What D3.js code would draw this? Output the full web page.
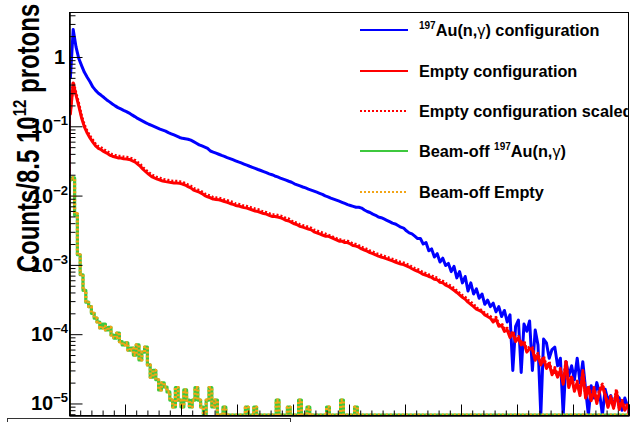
<!DOCTYPE html>
<html><head><meta charset="utf-8">
<script src="https://cdn.jsdelivr.net/npm/d3@7"></script>
<style>
html,body{margin:0;padding:0;background:#fff;}
svg{display:block;font-family:"Liberation Sans",Arial,Helvetica,sans-serif;}
</style></head>
<body>
<svg id="c" width="634" height="422"></svg>
<script>
// ---------------- data ----------------
const binLow = 0, binHigh = 10, binWidth = 0.05; // 200 bins
const yMin = 6.82e-6, yMax = 4.46;

const auConfig = [
0.5,2.5,1.4,0.95,0.75,0.6,0.51,0.44,0.37,0.33,
0.30,0.28,0.26,0.24,0.225,0.21,0.197,0.186,0.178,0.17,
0.163,0.155,0.146,0.138,0.13,0.124,0.118,0.112,0.107,0.103,
0.099,0.095,0.091,0.088,0.085,0.081,0.078,0.075,0.072,0.069,
0.067,0.066,0.065,0.063,0.060,0.057,0.054,0.052,0.050,0.048,
0.044,0.0425,0.041,0.0395,0.038,0.0368,0.0354,0.0342,0.033,0.0318,
0.0306,0.0296,0.0285,0.0275,0.0265,0.0256,0.0247,0.0238,0.023,0.0222,
0.0214,0.0206,0.02,0.0192,0.0186,0.0179,0.0173,0.0167,0.0161,0.0156,
0.0148,0.0143,0.0138,0.0133,0.0129,0.0124,0.012,0.0116,0.0112,0.0108,
0.0104,0.0099,0.0096,0.0092,0.0089,0.0086,0.0083,0.0080,0.0077,0.0074,
0.0072,0.0070,0.0068,0.0068,0.0066,0.0062,0.0059,0.0057,0.0054,0.0052,
0.0049,0.0048,0.0046,0.0044,0.0042,0.0040,0.0039,0.0037,0.0035,0.0034,
0.0031,0.0029,0.0028,0.0026,0.0024,0.0024,0.0020,0.0021,0.0016,0.0017,
0.0013,0.00145,0.0011,0.00125,0.00098,0.00105,0.0008,0.00095,0.00065,0.0008,
0.00055,0.00068,0.00042,0.00055,0.00038,0.00045,0.00033,0.00038,0.00027,0.00031,
0.00025,0.00028,0.00021,0.00025,0.00018,0.00022,0.00015,0.00019,0.00003,0.00013,
0.00016,0.000028,0.00014,0.00011,0.000155,0.00003,0.000115,0.00007,0,0.000085,
0.000075,0.000045,0.00006,0.000065,0.000035,0.000045,0,0.00004,0.000025,0.000035,
0.000022,0.000045,0.00002,0.00004,0.000016,0,0.000018,0.000012,0.00002,0.000014,
0,0.000016,0.000011,0.000013,0.000009,0.000013,0.000012,0.000008,0.000012,0.000009
];

const emptyConfig = [
0.15,0.42,0.283,0.196,0.132,0.098,0.080,0.068,0.059,0.052,
0.048,0.046,0.043,0.041,0.0385,0.037,0.036,0.035,0.0348,0.034,
0.0337,0.0332,0.032,0.0306,0.0285,0.0264,0.0238,0.0219,0.0202,0.0188,
0.018,0.0173,0.0168,0.0162,0.0159,0.0157,0.0154,0.0152,0.0152,0.0150,
0.0147,0.0142,0.0135,0.0129,0.012,0.0116,0.0112,0.0107,0.0100,0.0096,
0.0093,0.0089,0.0088,0.0087,0.0085,0.0082,0.0080,0.0077,0.0075,0.0072,
0.0071,0.0069,0.0067,0.0066,0.0064,0.0062,0.0060,0.0059,0.0057,0.0055,
0.0054,0.0052,0.0050,0.0050,0.0049,0.0048,0.0046,0.0044,0.0043,0.0041,
0.0039,0.0038,0.0036,0.0035,0.0034,0.0033,0.0032,0.0030,0.0029,0.0028,
0.0027,0.0026,0.0026,0.0025,0.0024,0.0023,0.0022,0.0022,0.0021,0.0021,
0.0020,0.0019,0.00187,0.0018,0.0017,0.00164,0.00158,0.0015,0.00145,0.00139,
0.00134,0.0013,0.00126,0.00122,0.00118,0.00114,0.0011,0.00106,0.00103,0.00101,
0.00097,0.00093,0.00088,0.00084,0.00081,0.00077,0.00073,0.00071,0.00068,0.00066,
0.00062,0.00061,0.00056,0.00055,0.00051,0.00049,0.00046,0.00043,0.0004,0.00037,
0.00034,0.00032,0.00029,0.00027,0.00025,0.00023,0.00022,0.00021,0.00019,0.00018,
0.00017,0.00015,0.000165,0.00013,0.000135,0.00011,0.000115,0.00009,0.000105,0.000078,
0.000088,0.00007,0.000075,0.000055,0.000062,0.00006,0.000042,0.00005,0.000036,0.000045,
0.000032,0.000038,0.000026,0.000031,0.000024,0.00003,0.000019,0.00004,0.000017,0.000024,
0.000015,0.00002,0.000013,0.000028,0.000012,0.000017,0.000011,0.000016,0.00001,0.000015,
0.000018,0.000013,0.0000088,0.000012,0.0000085,0.000015,0.0000082,0.0000105,0.000008,0.0000095
];

const emptyScaled = [
0.16,0.44,0.30,0.21,0.14,0.104,0.085,0.072,0.063,0.055,
0.051,0.049,0.046,0.0435,0.041,0.039,0.038,0.037,0.0368,0.036,
0.0357,0.0352,0.034,0.0324,0.0302,0.028,0.0252,0.0232,0.0214,0.0199,
0.0191,0.0183,0.0178,0.0172,0.0169,0.0166,0.0163,0.0161,0.0161,0.0159,
0.0156,0.015,0.0143,0.0137,0.0127,0.0123,0.0119,0.0113,0.0106,0.0102,
0.0099,0.0094,0.0093,0.0092,0.009,0.0087,0.0085,0.0082,0.0080,0.0076,
0.0075,0.0073,0.0071,0.0070,0.0068,0.0066,0.0064,0.0063,0.0060,0.0058,
0.0057,0.0055,0.0053,0.0053,0.0052,0.0051,0.0049,0.0047,0.0046,0.0043,
0.0041,0.0040,0.0038,0.0037,0.0036,0.0035,0.0034,0.0032,0.0031,0.0030,
0.0029,0.0028,0.0027,0.0026,0.0025,0.0024,0.0023,0.0023,0.0022,0.0022,
0.0021,0.0020,0.00198,0.0019,0.0018,0.00174,0.00167,0.00159,0.00154,0.00147,
0.00142,0.00138,0.00134,0.00129,0.00125,0.00121,0.00117,0.00112,0.00109,0.00107,
0.00103,0.00099,0.00093,0.00089,0.00086,0.00082,0.00077,0.00075,0.00072,0.0007,
0.00066,0.00065,0.00059,0.00058,0.00054,0.00052,0.00049,0.00046,0.00042,0.00039,
0.00036,0.00034,0.00031,0.00029,0.00027,0.00024,0.00023,0.00022,0.0002,0.00019,
0.00018,0.00016,0.000175,0.000138,0.000143,0.000117,0.000122,0.000095,0.00011,0.000083,
0.000093,0.000074,0.00008,0.000058,0.000066,0.000064,0.000045,0.000053,0.000038,0.000048,
0.000034,0.00004,0.000028,0.000033,0.000025,0.000032,0.00002,0.000042,0.000018,0.000025,
0.000016,0.000021,0.000014,0.00003,0.000013,0.000018,0.0000117,0.000017,0.0000106,0.000016,
0.000019,0.0000138,0.0000093,0.0000127,0.000009,0.000016,0.0000087,0.0000111,0.0000085,0.00001
];

const beamOffAu = [
0.017,0.018,0.0052,0.0014,0.00072,0.00043,0.00029,0.00025,0.0002,0.00017,
0.00015,0.000123,0.00014,0.000115,0.000125,0.0000974,0.000088,0.000104,0.000078,0.00007,
0.000075,0.000059,0.000063,0.00005,0.00007,0.0000425,0.000055,0.000065,0.000036,0.000024,
0.00003,0.000022,0.0000157,0.0000198,0.0000173,0.0000147,0.0000112,0.0000089,0.000017,0.0000112,
0.0000089,0.0000157,0.0000112,0.0000089,0.0000112,0.000017,0.0000112,0.0000089,0,0.0000112,
0.000017,0.0000089,0.0000112,0,0,0.0000089,0,0,0,0,
0,0,0,0.0000089,0,0,0.0000089,0,0,0,
0,0,0,0,0.0000112,0,0,0,0.0000089,0,
0,0,0.0000112,0,0,0.0000089,0,0,0,0,
0,0,0.0000089,0,0,0,0,0.0000112,0,0,
0,0,0.0000089,0,0,0,0,0,0,0,
0,0,0,0,0,0,0,0,0,0,
0,0,0,0,0,0,0,0,0,0,
0,0,0,0,0,0,0,0,0,0,
0,0,0,0,0,0,0,0,0,0,
0,0,0,0,0,0,0,0,0,0,
0,0,0,0,0,0,0,0,0,0,
0,0,0,0,0,0,0,0,0,0,
0,0,0,0,0,0,0,0,0,0,
0,0,0,0,0,0,0,0,0,0
];

const beamOffEmpty = [
0.017,0.018,0.0055,0.0014,0.00074,0.00043,0.0003,0.00025,0.0002,0.00017,
0.00015,0.000123,0.00013,0.000115,0.000125,0.0000974,0.00009,0.000104,0.000078,0.00007,
0.000075,0.000059,0.000063,0.00005,0.00007,0.0000425,0.000055,0.000065,0.000036,0.000024,
0.00003,0.000022,0.0000157,0.0000198,0.0000173,0.0000147,0.0000112,0.0000089,0.000017,0.0000112,
0.0000089,0.0000157,0.0000112,0.0000089,0.0000112,0.000017,0.0000112,0.0000089,0,0.0000112,
0.000017,0.0000089,0.0000112,0,0,0.0000089,0,0,0,0,
0,0,0,0.0000089,0,0,0.0000089,0,0,0,
0,0,0,0,0.0000112,0,0,0,0.0000089,0,
0,0,0.0000112,0,0,0.0000089,0,0,0,0,
0,0,0.0000089,0,0,0,0,0.0000112,0,0,
0,0,0.0000089,0,0,0,0,0,0,0,
0,0,0,0,0,0,0,0,0,0,
0,0,0,0,0,0,0,0,0,0,
0,0,0,0,0,0,0,0,0,0,
0,0,0,0,0,0,0,0,0,0,
0,0,0,0,0,0,0,0,0,0,
0,0,0,0,0,0,0,0,0,0,
0,0,0,0,0,0,0,0,0,0,
0,0,0,0,0,0,0,0,0,0,
0,0,0,0,0,0,0,0,0,0
];

const yTickExponents = [0,-1,-2,-3,-4,-5];
const yTitle = {main:"Counts/8.5 10", sup:"12", tail:" protons"};
const legendItems = [
  {key:"au",  pre:"", sup:"197", text:"Au(n,", greek:"γ", post:") configuration"},
  {key:"empty", pre:"Empty configuration", sup:"", text:"", greek:"", post:""},
  {key:"scaled", pre:"Empty configuration scaled", sup:"", text:"", greek:"", post:""},
  {key:"boAu", pre:"Beam-off ", sup:"197", text:"Au(n,", greek:"γ", post:")"},
  {key:"boEmpty", pre:"Beam-off Empty", sup:"", text:"", greek:"", post:""}
];

// ---------------- layout ----------------
const L = 69, R = 629, T = 12, B = 415;
const svg = d3.select("#c");
const x = d3.scaleLinear().domain([binLow, binHigh]).range([L, R]);
const y = d3.scaleLog().domain([yMin, yMax]).range([B, T]);

const styles = {
  au:      {color:"#0000ff", width:3, dash:null, mode:"center"},
  empty:   {color:"#ff0000", width:3, dash:null, mode:"center"},
  scaled:  {color:"#ff0000", width:3, dash:"2,2", mode:"center"},
  boAu:    {color:"#3ec83e", width:3.2, dash:null, mode:"step"},
  boEmpty: {color:"#f2a516", width:3.2, dash:"2,2", mode:"step"}
};

svg.append("defs").append("clipPath").attr("id","frame")
  .append("rect").attr("x",L).attr("y",T).attr("width",R-L).attr("height",B-T);
svg.select("defs").append("clipPath").attr("id","pad")
  .append("rect").attr("x",0).attr("y",0).attr("width",R).attr("height",422);

function yv(v){ return v > 0 ? y(Math.max(v, yMin)) : B; }
function histPoints(vals, mode){
  const pts = [[x(binLow), B]];
  if (mode === "step"){
    vals.forEach((v,i)=>{
      pts.push([x(binLow + i*binWidth), yv(v)]);
      pts.push([x(binLow + (i+1)*binWidth), yv(v)]);
    });
  } else {
    pts.push([x(binLow), yv(vals[0])]);
    vals.forEach((v,i)=>{ pts.push([x(binLow + (i+0.5)*binWidth), yv(v)]); });
    pts.push([x(binHigh), yv(vals[vals.length-1])]);
  }
  pts.push([x(binHigh), B]);
  return pts;
}
const line = d3.line();
const plot = svg.append("g").attr("clip-path","url(#frame)");
const series = [
  ["au", auConfig], ["empty", emptyConfig], ["scaled", emptyScaled],
  ["boAu", beamOffAu], ["boEmpty", beamOffEmpty]
];
series.forEach(([k, vals])=>{
  const s = styles[k];
  plot.append("path").attr("d", line(histPoints(vals, s.mode)))
    .attr("fill","none").attr("stroke",s.color).attr("stroke-width",s.width)
    .attr("stroke-dasharray",s.dash).attr("stroke-linejoin","round");
});

// frame
svg.append("rect").attr("x",L+0.5).attr("y",T+0.5).attr("width",R-L-1).attr("height",B-T)
  .attr("fill","none").attr("stroke","#000").attr("stroke-width",1);

// y axis (ticks inside)
const yMajor = yTickExponents.map(e=>Math.pow(10,e));
const yMinor = [];
for (let e=-6; e<=0; e++) for (let m=2; m<=9; m++){ const v=m*Math.pow(10,e); if (v>=yMin && v<=yMax) yMinor.push(v); }
const gy = svg.append("g").attr("transform",`translate(${L+0.5},0)`);
gy.call(d3.axisRight(y).tickValues(yMajor).tickSize(13).tickFormat(""));
gy.append("g").call(d3.axisRight(y).tickValues(yMinor).tickSize(6).tickFormat(""));
gy.selectAll(".domain").attr("stroke","#000");
gy.selectAll(".tick line").attr("stroke","#000");

// x axis (ticks inside, upward)
const xMajor = d3.range(0, 11, 1);
const xMinor = d3.range(0, 50).map(i=>i*0.2).filter(v=>v%1!==0);
const gx = svg.append("g").attr("transform",`translate(0,${B+0.5})`);
gx.call(d3.axisTop(x).tickValues(xMajor).tickSize(11).tickFormat(""));
gx.append("g").call(d3.axisTop(x).tickValues(xMinor).tickSize(5).tickFormat(""));
gx.selectAll(".domain").attr("stroke","#000");
gx.selectAll(".tick line").attr("stroke","#000");

// y labels
yTickExponents.forEach(e=>{
  const t = svg.append("text").attr("x",L-1).attr("y",y(Math.pow(10,e))+7)
    .attr("text-anchor","end").attr("font-weight","bold").attr("font-size",20).attr("fill","#000");
  if (e===0){ t.text("1"); t.attr("x",L-4); }
  else {
    t.append("tspan").text("10");
    t.append("tspan").attr("font-size",13).attr("dy",-8).text("\u2212"+Math.abs(e));
  }
});

// y title
const tt = svg.append("text").attr("transform","translate(39,138) rotate(-90) scale(1,1.28)")
  .attr("text-anchor","middle").attr("font-weight","bold").attr("font-size",24).attr("fill","#000");
tt.append("tspan").text(yTitle.main);
tt.append("tspan").attr("font-size",15).attr("dy",-10).text(yTitle.sup);
tt.append("tspan").attr("dy",10).text(yTitle.tail);

// legend
const lg = svg.append("g").attr("clip-path","url(#pad)");
const rowY = [30, 71, 111, 151, 192];
legendItems.forEach((it,i)=>{
  const s = styles[it.key];
  lg.append("line").attr("x1",360).attr("x2",408).attr("y1",rowY[i]).attr("y2",rowY[i])
    .attr("stroke",s.color).attr("stroke-width",2).attr("stroke-dasharray",s.dash);
  const t = lg.append("text").attr("x",419).attr("y",rowY[i]+6)
    .attr("font-weight","bold").attr("font-size",16.3).attr("fill","#000");
  if (it.pre) t.append("tspan").text(it.pre);
  if (it.sup){
    t.append("tspan").attr("font-size",10).attr("dy",-7).text(it.sup);
    t.append("tspan").attr("dy",7).text(it.text);
    t.append("tspan").attr("font-weight","normal").text(it.greek);
    t.append("tspan").text(it.post);
  }
});

// bottom box (cut off pave)
svg.append("rect").attr("x",7.5).attr("y",418.5).attr("width",283).attr("height",20)
  .attr("fill","#fff").attr("stroke","#333").attr("stroke-width",1);
</script>
</body></html>
